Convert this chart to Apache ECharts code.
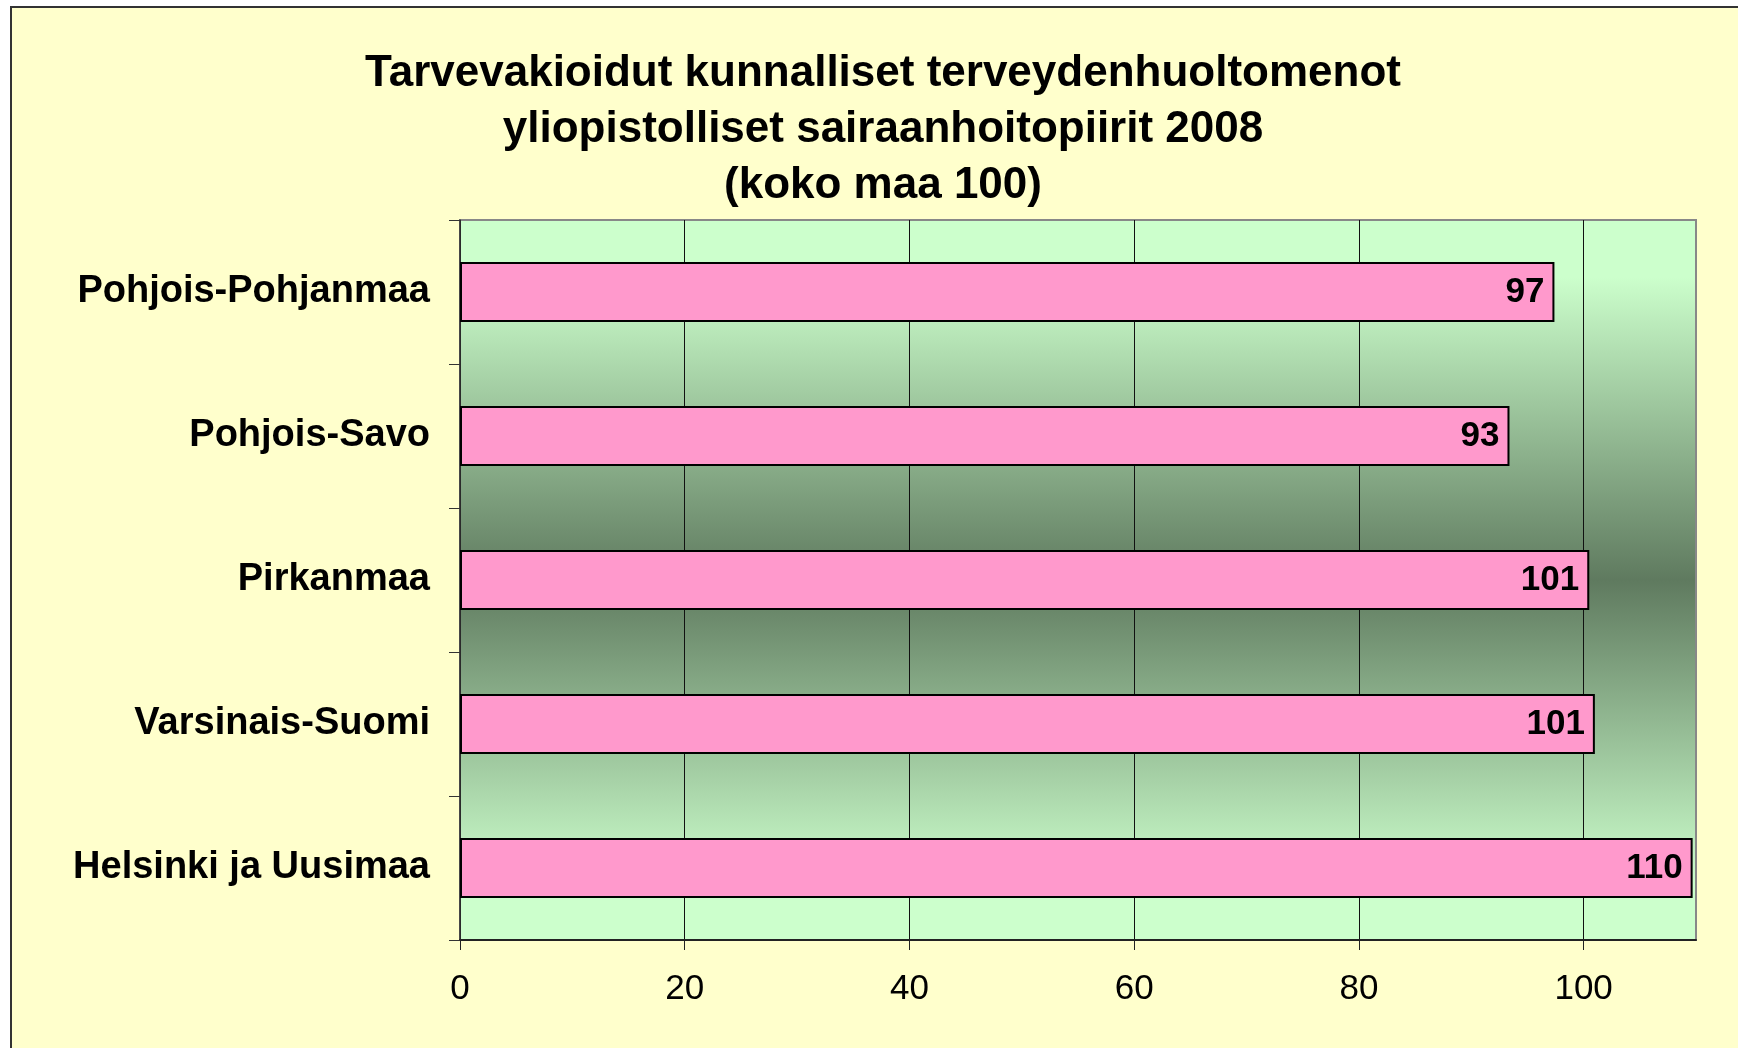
<!DOCTYPE html>
<html>
<head>
<meta charset="utf-8">
<title>Tarvevakioidut kunnalliset terveydenhuoltomenot</title>
<script src="https://cdn.jsdelivr.net/npm/echarts@6/dist/echarts.min.js"></script>
<style>
    html, body {
        margin: 0;
        padding: 0;
        background: #fff;
        overflow: hidden;
    }
    #frame {
        position: absolute;
        left: 10px;
        top: 6px;
        width: 1780px;
        height: 1100px;
        background: #FFFFCC;
        border: 2px solid #333;
    }
    #main {
        position: absolute;
        left: 0;
        top: 0;
        width: 1738px;
        height: 1048px;
    }
</style>
</head>
<body>
<div id="frame"></div>
<div id="main"></div>
<script>
// title, one entry per line
var titleLines = [
    'Tarvevakioidut kunnalliset terveydenhuoltomenot',
    'yliopistolliset sairaanhoitopiirit 2008',
    '(koko maa 100)'
];
// regions, top to bottom
var regions = ['Pohjois-Pohjanmaa', 'Pohjois-Savo', 'Pirkanmaa', 'Varsinais-Suomi', 'Helsinki ja Uusimaa'];
var values = [97.4, 93.4, 100.5, 101.0, 109.7];
var xTicks = [0, 20, 40, 60, 80, 100];
var xMax = 110;

var font = '"Liberation Sans", Arial, sans-serif';

var myChart = echarts.init(document.getElementById('main'), null, {renderer: 'canvas'});

var option = {
    animation: false,
    backgroundColor: 'transparent',
    title: {
        text: titleLines.join('\n'),
        left: 878,
        top: 41,
        textAlign: 'center',
        textStyle: {
            fontFamily: font,
            fontSize: 44,
            fontWeight: 'bold',
            lineHeight: 56,
            color: '#000'
        }
    },
    grid: {
        left: 460,
        right: 42,
        top: 220,
        bottom: 108,
        containLabel: false,
        outerBoundsMode: 'none',
        show: true,
        borderColor: '#888',
        borderWidth: 2,
        backgroundColor: new echarts.graphic.LinearGradient(0, 0, 0, 1, [
            {offset: 0, color: '#CCFFCC'},
            {offset: 0.08, color: '#CCFFCC'},
            {offset: 0.5, color: '#5F7A5F'},
            {offset: 0.92, color: '#CCFFCC'},
            {offset: 1, color: '#CCFFCC'}
        ])
    },
    xAxis: {
        type: 'value',
        min: 0,
        max: xMax,
        interval: 20,
        axisLine: {show: true, lineStyle: {color: '#222', width: 2}},
        axisTick: {show: true, length: 10, customValues: xTicks, lineStyle: {color: '#222', width: 1}},
        axisLabel: {
            customValues: xTicks,
            margin: 32,
            fontFamily: font,
            fontSize: 35,
            color: '#000'
        },
        splitLine: {show: true, lineStyle: {color: '#111', width: 1}}
    },
    yAxis: {
        type: 'category',
        data: regions,
        inverse: true,
        axisLine: {show: true, lineStyle: {color: '#333', width: 1.5}},
        axisTick: {show: true, length: 11, lineStyle: {color: '#333', width: 1}},
        axisLabel: {
            margin: 30,
            fontFamily: font,
            fontSize: 38,
            fontWeight: 'bold',
            color: '#000'
        },
        splitLine: {show: false}
    },
    series: [
        {
            type: 'bar',
            data: values,
            barWidth: 60,
            itemStyle: {color: '#FF99CC', borderColor: '#000', borderWidth: 2},
            label: {
                show: true,
                position: 'insideRight',
                distance: 10,
                formatter: function (p) { return Math.round(p.value); },
                fontFamily: font,
                fontSize: 35,
                fontWeight: 'bold',
                color: '#000'
            }
        }
    ]
};

myChart.setOption(option);
</script>
</body>
</html>
